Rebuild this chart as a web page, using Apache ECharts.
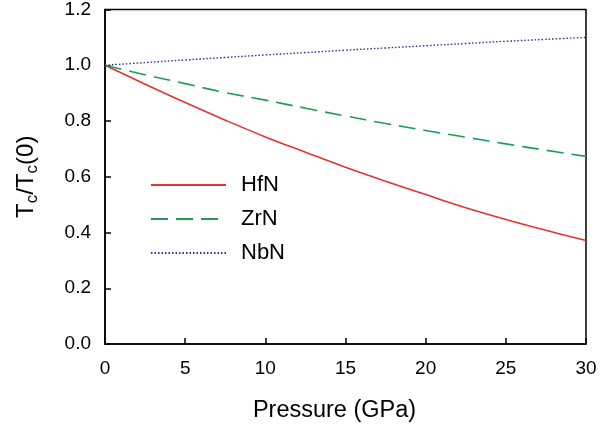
<!DOCTYPE html>
<html><head><meta charset="utf-8">
<script src="https://cdn.jsdelivr.net/npm/echarts@6/dist/echarts.min.js"></script>
<style>html,body{margin:0;padding:0;background:#fff}#c{width:613px;height:428px}</style>
</head><body><div id="c"></div>
<script>
var pressure = [0, 2.5, 5, 7.5, 10, 12.5, 15, 17.5, 20, 22.5, 25, 27.5, 30];
var hfn = [1.0, 0.932, 0.866, 0.803, 0.743, 0.688, 0.634, 0.584, 0.536, 0.489, 0.447, 0.408, 0.371];
var zrn = [1.0, 0.966, 0.934, 0.902, 0.875, 0.846, 0.818, 0.791, 0.766, 0.742, 0.718, 0.695, 0.673];
var nbn = [1.0, 1.0095, 1.019, 1.028, 1.037, 1.0455, 1.054, 1.062, 1.070, 1.078, 1.086, 1.093, 1.100];
var seriesNames = ['HfN', 'ZrN', 'NbN'];

function pairs(ys){ return pressure.map(function(p,i){ return [p, ys[i]]; }); }
var font = 'Liberation Sans, Arial, Helvetica, sans-serif';
var chart = echarts.init(document.getElementById('c'), null, {renderer:'canvas'});
chart.setOption({
  animation:false,
  backgroundColor:'#fff',
  grid:{left:105, right:27, top:8, bottom:83, show:true, borderColor:'#000', borderWidth:1.5, backgroundColor:'transparent'},
  xAxis:{type:'value', min:0, max:30, interval:5,
    name:'Pressure (GPa)', nameLocation:'middle', nameGap:55,
    nameTextStyle:{fontFamily:font, fontSize:23.5, color:'#000', padding:[0,22,0,0]},
    axisLine:{show:true, lineStyle:{color:'#000', width:1.5}},
    axisTick:{show:true, inside:true, length:6, lineStyle:{color:'#000', width:1.5}},
    axisLabel:{fontFamily:font, fontSize:19, color:'#000', margin:15},
    splitLine:{show:false}},
  yAxis:{type:'value', min:0, max:1.2, interval:0.2,
    name:'T{s|c}/T{s|c}(0)', nameLocation:'middle', nameGap:64,
    nameTextStyle:{fontFamily:font, fontSize:24, color:'#000',
      rich:{s:{fontFamily:font, fontSize:17, color:'#000', verticalAlign:'bottom', padding:[12,0,0,0]}}},
    axisLine:{show:true, lineStyle:{color:'#000', width:1.5}},
    axisTick:{show:true, inside:true, length:6, lineStyle:{color:'#000', width:1.5}},
    axisLabel:{fontFamily:font, fontSize:19, color:'#000', margin:14,
      formatter:function(v){ return v.toFixed(1); }},
    splitLine:{show:false}},
  legend:{orient:'vertical', left:145, top:169, itemWidth:75, itemHeight:14, itemGap:12,
    data:seriesNames, itemStyle:{opacity:0},
    textStyle:{fontFamily:font, fontSize:22, color:'#000', padding:[0,0,0,10]}},
  series:[
    {name:seriesNames[0], type:'line', data:pairs(hfn), symbol:'none', smooth:0.4,
      lineStyle:{color:'#e53232', width:1.6, type:'solid'}, itemStyle:{color:'#e53232'}},
    {name:seriesNames[1], type:'line', data:pairs(zrn), symbol:'none', smooth:0.4,
      lineStyle:{color:'#1e9e50', width:1.6, type:[17,8]}, itemStyle:{color:'#1e9e50'}},
    {name:seriesNames[2], type:'line', data:pairs(nbn), symbol:'none', smooth:0.4,
      lineStyle:{color:'#2a3590', width:1.4, type:[1.5,2]}, itemStyle:{color:'#2a3590'}}
  ]
});
</script></body></html>
